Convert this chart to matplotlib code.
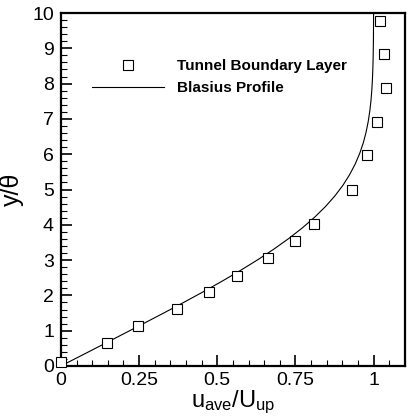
import matplotlib
matplotlib.use("Agg")
import matplotlib.pyplot as plt
from matplotlib.ticker import MultipleLocator

plt.rcParams['font.family'] = ['Liberation Sans', 'DejaVu Sans']
plt.rcParams['mathtext.default'] = 'regular'

# measured tunnel boundary layer
u_meas = [0.0, 0.146, 0.248, 0.371, 0.474, 0.563, 0.661, 0.748, 0.809,
          0.932, 0.980, 1.010, 1.038, 1.033, 1.019]
y_meas = [0.1, 0.64, 1.13, 1.61, 2.10, 2.56, 3.05, 3.55, 4.02,
          5.00, 5.98, 6.92, 7.87, 8.84, 9.78]

# Blasius profile (u/U vs y/theta)
u_blas = [0.0, 0.0664, 0.1328, 0.1989, 0.2647, 0.3298, 0.3938, 0.4563, 0.5168,
          0.5748, 0.6298, 0.6813, 0.7290, 0.7725, 0.8115, 0.8461, 0.8761,
          0.9018, 0.9233, 0.9411, 0.9555, 0.9670, 0.9759, 0.9827, 0.9878,
          0.9916, 0.9943, 0.9962, 0.9975, 0.9984, 0.9990, 0.9994, 0.9996, 0.9999]
y_blas = [0.0, 0.301, 0.602, 0.904, 1.205, 1.506, 1.807, 2.108, 2.410,
          2.711, 3.012, 3.313, 3.614, 3.916, 4.217, 4.518, 4.819,
          5.120, 5.422, 5.723, 6.024, 6.325, 6.627, 6.928, 7.229,
          7.530, 7.831, 8.133, 8.434, 8.735, 9.036, 9.337, 9.639, 10.24]

fig = plt.figure(figsize=(4.09, 4.20), dpi=100)
ax = fig.add_axes([0.149, 0.1286, 0.841, 0.8404])

ax.plot(u_meas, y_meas, 's', mfc='white', mec='black', ms=6.5, mew=0.8,
        clip_on=False, zorder=3, label='Tunnel Boundary Layer')
ax.plot(u_blas, y_blas, '-', color='black', lw=0.8, label='Blasius Profile')

ax.set_xlim(0, 1.1)
ax.set_ylim(0, 10)
ax.xaxis.set_major_locator(MultipleLocator(0.25))
ax.xaxis.set_minor_locator(MultipleLocator(0.05))
ax.yaxis.set_major_locator(MultipleLocator(1))
ax.yaxis.set_minor_locator(MultipleLocator(0.2))
ax.set_xticks([0, 0.25, 0.5, 0.75, 1])
ax.set_xticklabels(['0', '0.25', '0.5', '0.75', '1'])

ax.tick_params(which='both', direction='in', top=False, right=False, labelsize=14)
ax.tick_params(which='major', length=8, width=1.2)
ax.tick_params(which='minor', length=4, width=0.8)
ax.tick_params(axis='x', pad=4)
ax.tick_params(axis='y', pad=5)
for s in ax.spines.values():
    s.set_linewidth(1.6)

ax.set_xlabel('u$_{ave}$/U$_{up}$', fontsize=17, labelpad=0)
ax.set_ylabel('y/θ', fontsize=18, labelpad=6)

leg = ax.legend(loc='upper left', bbox_to_anchor=(0.05, 0.908), frameon=False,
                prop={'weight': 'bold', 'size': 11}, handlelength=4.7,
                handletextpad=0.9, labelspacing=0.53)

fig.savefig('out.png', dpi=100)
